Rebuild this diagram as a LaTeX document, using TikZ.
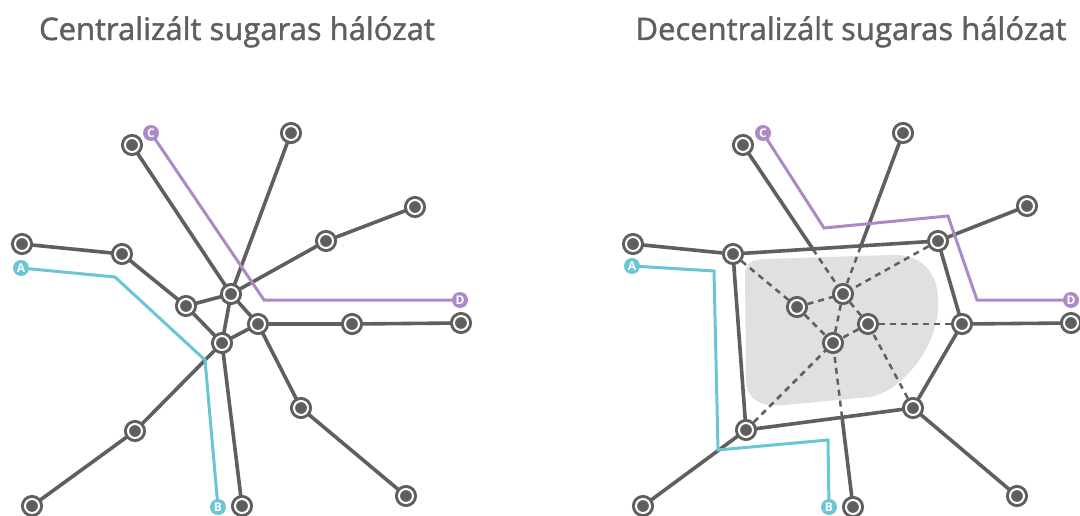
\documentclass[tikz,border=0pt]{standalone}
\usepackage{fontspec}
\setmainfont{Open Sans}
\newfontfamily\ttlfont{Open Sans}[FakeBold=1.4]
\usetikzlibrary{calc}
\definecolor{g}{RGB}{95,95,95}
\definecolor{cy}{RGB}{108,197,214}
\definecolor{pu}{RGB}{172,138,200}
\definecolor{blobc}{RGB}{224,224,224}
\definecolor{tx}{RGB}{95,95,95}
\pgfdeclarelayer{bg}
\pgfdeclarelayer{edges}
\pgfsetlayers{bg,edges,main}
\tikzset{
  stn/.style={circle, inner sep=0pt, minimum size=14pt, fill=g, draw=g, line width=3pt, double=white, double distance=2pt},
  link/.style={draw=g, line width=3.6pt},
  dlink/.style={draw=g, line width=2.5pt, dash pattern=on 6pt off 5pt},
  route/.style={line width=3pt, line join=miter},
  tag/.style={circle, inner sep=0pt, minimum size=16pt, text=white, font=\bfseries\fontsize{12}{12}\selectfont},
  ttl/.style={text=tx, font=\ttlfont\fontsize{31}{36}\selectfont, anchor=base}
}
\begin{document}
\begin{tikzpicture}[x=1pt,y=-1pt]
\useasboundingbox (0,0) rectangle (1080,516);

% titles
\node[ttl] (t1) at (237,40) {Centralizált sugaras hálózat};
\node[ttl] (t2) at (851,40) {Decentralizált sugaras hálózat};

% ---------- left network ----------
\node[stn] (a1) at (132,145) {};
\node[stn] (a2) at (291,133) {};
\node[stn] (a3) at (415,207) {};
\node[stn] (a4) at (326,241) {};
\node[stn] (a5) at (22,244) {};
\node[stn] (a6) at (122,254) {};
\node[stn] (a7) at (186,306) {};
\node[stn] (a8) at (231,294) {};
\node[stn] (a9) at (258,324) {};
\node[stn] (a10) at (222,343) {};
\node[stn] (a11) at (352,324) {};
\node[stn] (a12) at (461,323) {};
\node[stn] (a13) at (301,408) {};
\node[stn] (a14) at (406,496) {};
\node[stn] (a15) at (135,431) {};
\node[stn] (a16) at (32,506) {};
\node[stn] (a17) at (242,506) {};

\node[tag, fill=pu] (lc) at (151,133) {C};
\node[tag, fill=cy] (la) at (21,268) {A};
\node[tag, fill=pu] (ld) at (460,300) {D};
\node[tag, fill=cy] (lb) at (218,507) {B};
\coordinate (lp1) at (264,300);
\coordinate (lq1) at (115,277);
\coordinate (lq2) at (205,360);

\begin{pgfonlayer}{edges}
  \foreach \u/\v in {a1/a8,a2/a8,a3/a4,a4/a8,a5/a6,a6/a7,a7/a8,a7/a10,a8/a10,a8/a9,a9/a10,a9/a11,a11/a12,a9/a13,a13/a14,a10/a15,a15/a16,a10/a17}
    \draw[link] (\u.center) -- (\v.center);
  \draw[route, pu] (lc.center) -- (lp1) -- (ld.center);
  \draw[route, cy] (la.center) -- (lq1) -- (lq2) -- (lb.center);
\end{pgfonlayer}

% ---------- right network ----------
\node[stn] (b1) at (743,145) {};
\node[stn] (b2) at (903,133) {};
\node[stn] (b3) at (1027,206) {};
\node[stn] (b4) at (938,241) {};
\node[stn] (b5) at (633,244) {};
\node[stn] (b6) at (733,254) {};
\node[stn] (b7) at (797,307) {};
\node[stn] (b8) at (843,294) {};
\node[stn] (b9) at (868,324) {};
\node[stn] (b10) at (833,343) {};
\node[stn] (b11) at (962,324) {};
\node[stn] (b12) at (1071,323) {};
\node[stn] (b13) at (913,408) {};
\node[stn] (b14) at (1017,496) {};
\node[stn] (b15) at (746,430) {};
\node[stn] (b16) at (643,506) {};
\node[stn] (b17) at (853,507) {};

\node[tag, fill=pu] (rc) at (763,133) {C};
\node[tag, fill=cy] (ra) at (632,266) {A};
\node[tag, fill=pu] (rd) at (1071,300) {D};
\node[tag, fill=cy] (rb) at (829,507) {B};

\coordinate (p1) at ($(b1)!0.70!(b8)$);
\coordinate (p2) at ($(b2)!0.706!(b8)$);
\coordinate (p3) at ($(b17)!0.546!(b10)$);
\coordinate (rp1) at (824,228);
\coordinate (rp2) at (948,216);
\coordinate (rp3) at (977,300);
\coordinate (rq1) at (714,271);
\coordinate (rq2) at (718,450);
\coordinate (rq3) at (828,440);

\begin{pgfonlayer}{bg}
  \fill[blobc] (745,275) .. controls (745,262) and (752,260) .. (765,259)
    -- (890,255) .. controls (935,253) and (940,290) .. (938,310)
    .. controls (936,345) and (905,390) .. (870,397)
    -- (785,405) .. controls (755,408) and (746,395) .. (746,380) -- cycle;
\end{pgfonlayer}

\begin{pgfonlayer}{edges}
  \foreach \u/\v in {b5/b6,b6/b4,b4/b11,b11/b13,b13/b15,b15/b6,b3/b4,b11/b12,b13/b14,b15/b16,b1/p1,b2/p2,b17/p3}
    \draw[link] (\u.center) -- (\v.center);
  \foreach \u/\v in {b6/b7,b7/b8,b7/b10,b8/b10,b8/b9,b9/b10,b4/b8,b11/b9,b13/b9,b15/b10,p1/b8,p2/b8,p3/b10}
    \draw[dlink] (\u.center) -- (\v.center);
  \draw[route, pu] (rc.center) -- (rp1) -- (rp2) -- (rp3) -- (rd.center);
  \draw[route, cy] (ra.center) -- (rq1) -- (rq2) -- (rq3) -- (rb.center);
\end{pgfonlayer}
\end{tikzpicture}
\end{document}
